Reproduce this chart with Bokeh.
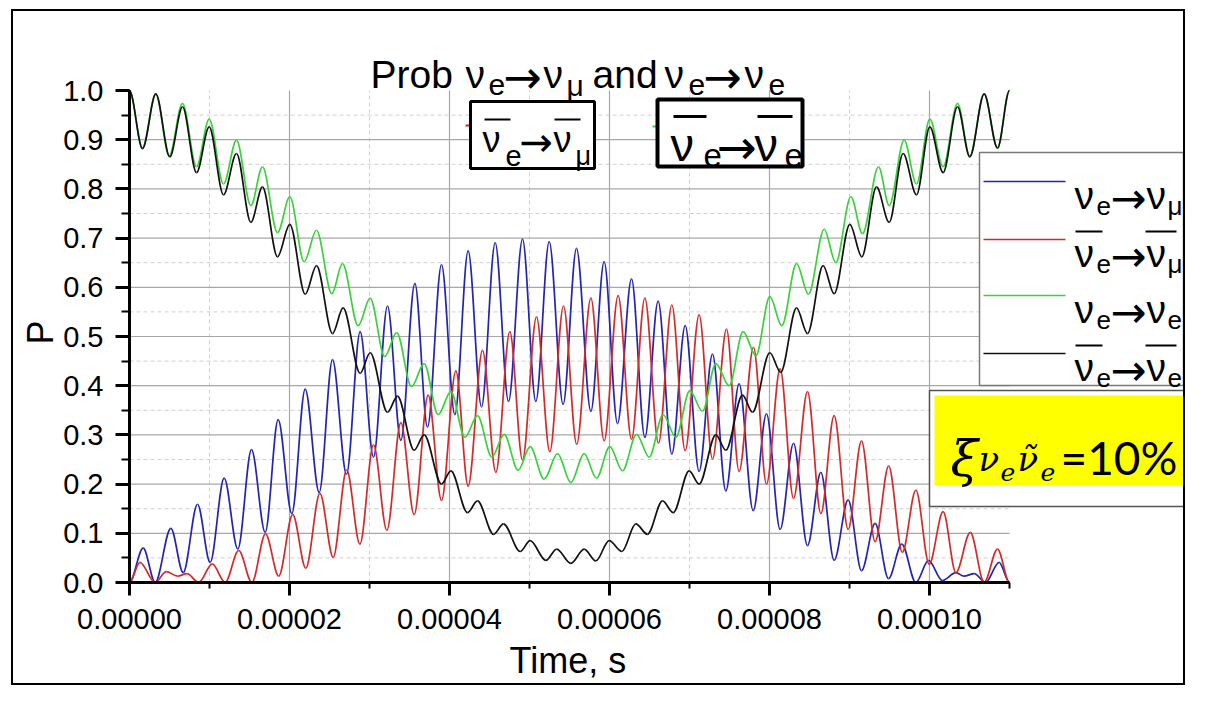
import math
from bokeh.plotting import figure
from bokeh.models import (Range1d, SingleIntervalTicker, PrintfTickFormatter, Label, ColumnDataSource, Title,
                          InlineStyleSheet)
from bokeh.embed import file_html
from bokeh.resources import INLINE

# ---- data (time in microseconds, probability) ----
blue_t = [0, 1.71, 3.21, 5.17, 6.71, 8.5, 10.08, 11.83, 13.54, 15.25, 16.96, 18.58, 20.29, 21.96, 23.71,
          25.375, 27.125, 28.83, 30.5, 32.25, 33.92, 35.67, 37.25, 39.0, 40.67, 42.33, 44.0, 45.71, 47.375,
          49.125, 50.79, 52.46, 54.2, 55.875, 57.67, 59.33, 61.0, 62.75, 64.42, 66.08, 67.79, 69.46, 71.2,
          72.875, 74.54, 76.2, 77.96, 79.625, 81.33, 83.0, 84.75, 86.42, 88.08, 89.83, 91.5, 93.2, 94.875,
          96.54, 98.29, 99.875, 101.6, 103.3, 104.3, 105.6, 107.0, 108.7, 110.0]
blue_p = [0.0, 0.070, 0.0, 0.110, 0.020, 0.159, 0.041, 0.212, 0.068, 0.270, 0.102, 0.331, 0.140, 0.393, 0.183,
          0.453, 0.220, 0.510, 0.255, 0.562, 0.289, 0.608, 0.316, 0.646, 0.341, 0.674, 0.357, 0.691, 0.368,
          0.698, 0.368, 0.693, 0.362, 0.679, 0.348, 0.652, 0.323, 0.617, 0.295, 0.572, 0.261, 0.522, 0.226,
          0.464, 0.186, 0.404, 0.146, 0.343, 0.108, 0.283, 0.075, 0.224, 0.045, 0.168, 0.024, 0.120, 0.008,
          0.078, 0.0, 0.045, 0.004, 0.020, 0.013, 0.018, 0.0, 0.041, 0.0]

red_t = [0, 1.3, 3.2, 4.6, 6.0, 7.2, 8.65, 10.35, 11.95, 13.65, 15.3, 17.0, 18.65, 20.4, 22.04, 23.8, 25.46,
         27.15, 28.8, 30.5, 32.17, 33.92, 35.58, 37.33, 39.0, 40.8, 42.33, 44.125, 45.79, 47.54, 49.125,
         50.875, 52.54, 54.25, 55.9, 57.67, 59.33, 61.08, 62.75, 64.42, 66.125, 67.79, 69.46, 71.2, 72.875,
         74.625, 76.2, 78.0, 79.625, 81.33, 83.0, 84.75, 86.42, 88.08, 89.83, 91.5, 93.2, 94.9, 96.6, 98.3,
         99.96, 101.7, 103.3, 105.1, 106.83, 108.5, 110.0]
red_p = [0.0, 0.041, 0.0, 0.022, 0.013, 0.018, 0.0, 0.038, 0.0, 0.065, 0.0, 0.099, 0.013, 0.138, 0.029, 0.181,
         0.051, 0.229, 0.078, 0.280, 0.106, 0.325, 0.138, 0.381, 0.167, 0.430, 0.196, 0.472, 0.224, 0.510,
         0.249, 0.540, 0.266, 0.562, 0.281, 0.578, 0.288, 0.583, 0.291, 0.578, 0.283, 0.564, 0.268, 0.544,
         0.251, 0.515, 0.226, 0.478, 0.200, 0.434, 0.171, 0.388, 0.140, 0.339, 0.108, 0.288, 0.083, 0.237,
         0.061, 0.188, 0.037, 0.144, 0.020, 0.102, 0.0, 0.068, 0.0]

green_t = [0, 1.625, 3.29, 4.96, 6.625, 8.375, 9.96, 11.75, 13.375, 15.17, 16.625, 18.5, 20.04, 21.83, 23.375,
           25.29, 26.625, 28.58, 30.08, 31.9, 33.4, 35.25, 36.83, 38.58, 40.17, 41.92, 43.5, 45.29, 46.83,
           48.58, 50.08, 51.83, 53.5, 55.17, 56.83, 58.375, 60.04, 61.625, 63.375, 64.96, 66.7, 68.29, 70.04,
           71.625, 73.29, 74.96, 76.7, 78.3, 80.04, 81.54, 83.375, 84.875, 86.83, 88.29, 90.17, 91.625, 93.625,
           94.96, 96.83, 98.375, 100.04, 101.7, 103.5, 105.04, 106.83, 108.5, 110.0]
green_p = [1.0, 0.883, 0.993, 0.867, 0.974, 0.845, 0.942, 0.810, 0.899, 0.766, 0.845, 0.711, 0.784, 0.652, 0.716,
           0.587, 0.648, 0.522, 0.578, 0.459, 0.508, 0.398, 0.445, 0.341, 0.388, 0.295, 0.339, 0.255, 0.301,
           0.228, 0.276, 0.210, 0.262, 0.203, 0.262, 0.212, 0.276, 0.227, 0.301, 0.255, 0.341, 0.295, 0.390,
           0.348, 0.445, 0.400, 0.510, 0.461, 0.581, 0.522, 0.648, 0.586, 0.718, 0.650, 0.784, 0.709, 0.845,
           0.766, 0.899, 0.810, 0.942, 0.845, 0.974, 0.867, 0.993, 0.883, 1.0]

black_t = [0, 1.625, 3.29, 5.04, 6.625, 8.375, 9.96, 11.75, 13.375, 15.17, 16.625, 18.5, 20.04, 21.96, 23.375,
           25.375, 26.7, 28.83, 30.08, 32.25, 33.5, 35.58, 36.83, 39.0, 40.17, 42.25, 43.5, 45.5, 46.75, 48.83,
           50.08, 52.04, 53.4, 55.17, 56.83, 58.29, 59.96, 61.54, 63.29, 64.75, 66.625, 67.96, 69.96, 71.2,
           73.29, 74.54, 76.625, 77.875, 80.04, 81.4, 83.375, 84.75, 86.7, 88.08, 90.04, 91.54, 93.375, 94.96,
           96.7, 98.375, 100.04, 101.7, 103.5, 105.04, 106.83, 108.5, 110.0]
black_p = [1.0, 0.882, 0.993, 0.865, 0.967, 0.833, 0.926, 0.788, 0.872, 0.732, 0.804, 0.662, 0.728, 0.586, 0.644,
           0.506, 0.558, 0.425, 0.467, 0.346, 0.379, 0.269, 0.300, 0.200, 0.227, 0.142, 0.166, 0.098, 0.119,
           0.063, 0.085, 0.045, 0.068, 0.039, 0.068, 0.044, 0.085, 0.063, 0.119, 0.098, 0.166, 0.142, 0.227,
           0.200, 0.300, 0.269, 0.381, 0.346, 0.467, 0.427, 0.558, 0.506, 0.644, 0.587, 0.728, 0.662, 0.804,
           0.732, 0.872, 0.788, 0.926, 0.833, 0.967, 0.865, 0.993, 0.883, 1.0]

x_tick_step = 0.00002
y_tick_step = 0.1
x_max = 0.00011
y_max = 1.0

series_colors = ["#2323b4", "#d42a2a", "#3ad23a", "#111111"]

# ---- layout ----
FONT = "Liberation Sans"
ARROW_FONT = "DejaVu Sans"
OX, OY = 21, 19            # page position of the canvas (margin 11/9 + 2px border)
W, H = 1174, 676
PX0, PY0 = 137, 590        # page position of (0, 0)
ML = PX0 - OX
MB = H - (PY0 - OY)
SX = 1.25e-7               # seconds per pixel
SY = 1.0 / 492             # probability per pixel


def X(px):
    return (px - PX0) * SX


def Y(py):
    return (PY0 - py) * SY


p = figure(width=W, height=H, output_backend="svg", toolbar_location=None,
           x_range=Range1d(0, (W - ML) * SX), y_range=Range1d(0, (PY0 - OY) * SY),
           min_border_left=ML, min_border_right=0, min_border_top=0, min_border_bottom=MB)
p.stylesheets = [InlineStyleSheet(css=":host { margin: 9px 0px 0px 11px !important; "
                                      "border: 2px solid black !important; }")]
p.outline_line_color = None
p.background_fill_color = "white"
p.border_fill_color = "white"
p.xgrid.visible = False
p.ygrid.visible = False

# gridlines, limited to the data area
xs_major = [x_tick_step * i for i in range(1, 6)]
xs_minor = [x_tick_step * i + x_tick_step / 2 for i in range(0, 5)]
ys_major = [y_tick_step * i for i in range(1, 10)]
ys_minor = [y_tick_step * i + y_tick_step / 2 for i in range(0, 10)]
p.segment(x0=xs_minor, x1=xs_minor, y0=[0] * len(xs_minor), y1=[y_max] * len(xs_minor),
          line_color="#d0d0d0", line_width=1, line_dash="4 3")
p.segment(x0=[0] * len(ys_minor), x1=[x_max] * len(ys_minor), y0=ys_minor, y1=ys_minor,
          line_color="#d0d0d0", line_width=1, line_dash="4 3")
p.segment(x0=xs_major, x1=xs_major, y0=[0] * len(xs_major), y1=[y_max] * len(xs_major),
          line_color="#a8a8a8", line_width=1.2)
p.segment(x0=[0] * len(ys_major), x1=[x_max] * len(ys_major), y0=ys_major, y1=ys_major,
          line_color="#a8a8a8", line_width=1.2)


def add_curve(t_us, pv, color):
    xs = [v * 1e-6 for v in t_us]
    a, b = xs[:-1], xs[1:]
    src = ColumnDataSource(dict(
        x0=a, y0=pv[:-1], x1=b, y1=pv[1:],
        cx0=[u + (w - u) / 3 for u, w in zip(a, b)], cy0=pv[:-1],
        cx1=[w - (w - u) / 3 for u, w in zip(a, b)], cy1=pv[1:]))
    p.bezier(x0="x0", y0="y0", x1="x1", y1="y1", cx0="cx0", cy0="cy0", cx1="cx1", cy1="cy1",
             source=src, line_color=color, line_width=1.7)


add_curve(blue_t, blue_p, series_colors[0])
add_curve(red_t, red_p, series_colors[1])
add_curve(green_t, green_p, series_colors[2])
add_curve(black_t, black_p, series_colors[3])

# axes
xa = p.xaxis[0]
ya = p.yaxis[0]
xa.ticker = SingleIntervalTicker(interval=x_tick_step, num_minor_ticks=2)
ya.ticker = SingleIntervalTicker(interval=y_tick_step, num_minor_ticks=2)
xa.formatter = PrintfTickFormatter(format="%.5f")
ya.formatter = PrintfTickFormatter(format="%.1f")
xa.bounds = (0, x_max)
ya.bounds = (0, y_max)
for ax, tout, mout, so in ((xa, 13, 6, 13), (ya, 14, 8, 12)):
    ax.axis_line_width = 3
    ax.axis_line_color = "black"
    ax.major_tick_out = tout
    ax.major_tick_in = 0
    ax.minor_tick_out = mout
    ax.minor_tick_in = 0
    ax.major_tick_line_width = 3
    ax.minor_tick_line_width = 2
    ax.major_tick_line_color = "black"
    ax.minor_tick_line_color = "black"
    ax.major_label_text_font = FONT
    ax.major_label_text_font_size = "29px"
    ax.major_label_text_color = "black"
    ax.major_label_standoff = so

# axis titles, placed as side titles so they can sit over the data span
p.add_layout(Title(text="Time, s", align="left", offset=380, text_font=FONT, text_font_size="36px",
                   text_font_style="normal", text_color="black", standoff=12), "below")
p.add_layout(Title(text="P", align="left", offset=238, text_font=FONT, text_font_size="36px",
                   text_font_style="normal", text_color="black", standoff=0), "left")


def txt(s, px, py, size, font=FONT, style="normal", align="left", baseline="alphabetic"):
    p.add_layout(Label(x=X(px), y=Y(py), text=s, text_font=font, text_font_size=f"{size}px",
                       text_font_style=style, text_align=align, text_baseline=baseline,
                       text_color="black"))


def bar(x0, x1, py, w=2):
    p.segment(x0=[X(x0)], x1=[X(x1)], y0=[Y(py)], y1=[Y(py)], line_color="black", line_width=w)


# title
for s, px, py, sz in [("Prob", 378, 82, 39), ("ν", 473, 82, 39), ("e", 496, 92, 30),
                      ("ν", 551, 82, 39), ("μ", 574, 93, 30), ("and", 600, 82, 39), ("ν", 672, 82, 39),
                      ("e", 696, 92, 30), ("ν", 752, 82, 39), ("e", 776, 92, 30)]:
    txt(s, px, py, sz)
txt("→", 511, 84, 46, font=ARROW_FONT)
txt("→", 711, 84, 46, font=ARROW_FONT)

# top boxes
p.segment(x0=[X(473)], x1=[X(480)], y0=[Y(133)], y1=[Y(133)], line_color=series_colors[1], line_width=2)
p.quad(left=[X(478)], right=[X(602)], top=[Y(109)], bottom=[Y(176)], fill_color="white",
       line_color="black", line_width=3)
for s, px, py, sz in [("ν", 490, 147, 36), ("e", 513, 163, 29), ("ν", 561, 147, 36), ("μ", 583, 163, 27)]:
    txt(s, px, py, sz)
txt("→", 527, 149, 40, font=ARROW_FONT)
bar(492, 518, 127)
bar(562, 588, 127)

p.segment(x0=[X(660)], x1=[X(667)], y0=[Y(134)], y1=[Y(134)], line_color=series_colors[2], line_width=2)
p.quad(left=[X(665)], right=[X(810)], top=[Y(107)], bottom=[Y(174)], fill_color="white",
       line_color="black", line_width=4)
for s, px, py, sz in [("ν", 678, 152, 47), ("e", 711, 163, 33), ("ν", 762, 152, 47), ("e", 792, 163, 33)]:
    txt(s, px, py, sz)
txt("→", 724, 154, 48, font=ARROW_FONT)
bar(681, 714, 124, 3)
bar(765, 800, 124, 3)

# legend
p.quad(left=[X(987)], right=[X(1191)], top=[Y(160)], bottom=[Y(393)], fill_color="white",
       line_color="#7a7a7a", line_width=1.5)
leg_y = [189, 247, 303, 361]
leg_sub = ["μ", "μ", "e", "e"]
leg_bar = [False, True, False, True]
for (ly, sub, hasbar, col) in zip(leg_y, leg_sub, leg_bar, series_colors):
    p.segment(x0=[X(991)], x1=[X(1073)], y0=[Y(ly)], y1=[Y(ly)], line_color=col, line_width=1.7)
    base = ly + 14
    txt("ν", 1082, base, 39)
    txt("e", 1104, base + 10, 26)
    txt("→", 1118, base + 2, 43, font=ARROW_FONT)
    txt("ν", 1154, base, 39)
    txt(sub, 1175, base + 10, 26)
    if hasbar:
        bar(1083, 1110, ly - 8)
        bar(1153, 1184, ly - 8)

# annotation box
p.quad(left=[X(937)], right=[X(1193)], top=[Y(398)], bottom=[Y(514)], fill_color="white",
       line_color="#555555", line_width=1.5)
p.quad(left=[X(942)], right=[X(1216)], top=[Y(403)], bottom=[Y(493)], fill_color="#ffff00",
       line_color=None)
txt("ξ", 958, 466, 50, font="DejaVu Serif", style="italic")
txt("ν", 986, 466, 34, font="DejaVu Serif", style="italic")
txt("e", 1008, 479, 25, font="DejaVu Serif", style="italic")
txt("ν\u0303", 1025, 466, 34, font="DejaVu Serif", style="italic")
txt("e", 1048, 479, 25, font="DejaVu Serif", style="italic")
txt("=10%", 1068, 465, 46, font="Lato")

open("out.html", "w").write(file_html(p, INLINE))
